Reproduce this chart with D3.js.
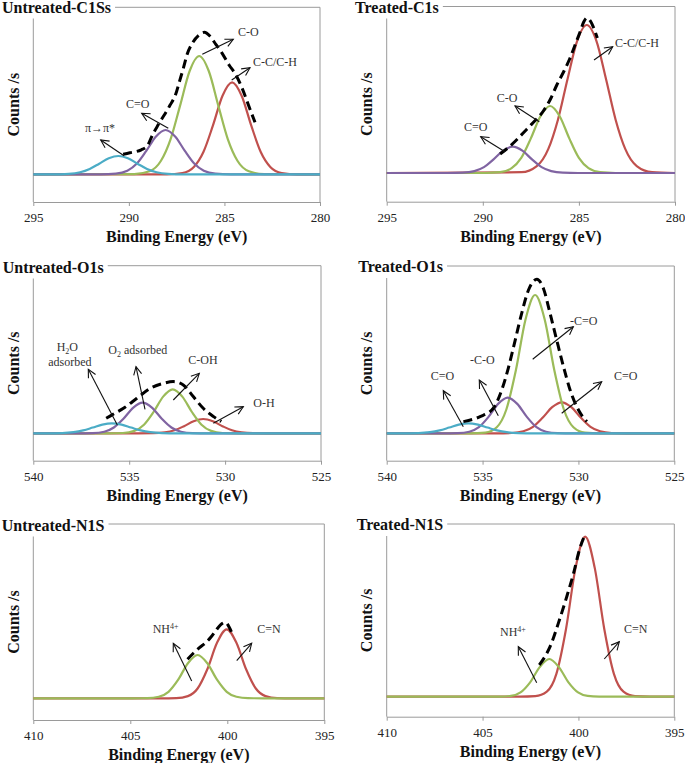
<!DOCTYPE html>
<html>
<head>
<meta charset="utf-8">
<script src="https://cdn.jsdelivr.net/npm/d3@7"></script>
<style>
  body { margin: 0; background: #fff; }
  svg { display: block; }
  text { font-family: "Liberation Serif", "Times New Roman", serif; }
</style>
</head>
<body>
<div id="vis-container"></div>
<script>
// ------------------------------ DATA ------------------------------ //
// Binding energy ticks (eV), high to low like the original plots
const c1sTicks = [295, 290, 285, 280];
const o1sTicks = [540, 535, 530, 525];
const n1sTicks = [410, 405, 400, 395];

// Fitted components as [eV, counts] (arbitrary units)
// Untreated C1s
const uC1sCC = [[295,0],[288.0,0],[287.2,1.3],[286.6,7.4],[286.1,22.3],[285.6,48.9],[285.1,78.6],[284.6,92],[284.1,78.6],[283.6,48.9],[283.1,22.3],[282.6,7.4],[282.0,1.3],[281.2,0],[280,0]];
const uC1sCO = [[295,0],[289.72,0.2],[288.92,3.0],[288.32,13.5],[287.82,34.9],[287.32,68.7],[286.82,103.3],[286.32,118.3],[285.82,103.3],[285.32,68.7],[284.82,34.9],[284.32,13.5],[283.72,3.0],[282.92,0.2],[280,0]];
const uC1sCdO = [[295,0],[291.48,0],[290.68,0.6],[290.08,3.5],[289.58,10.7],[289.08,23.6],[288.58,37.8],[288.08,44.3],[287.58,37.8],[287.08,23.6],[286.58,10.7],[286.08,3.5],[285.48,0.6],[284.68,0],[280,0]];
const uC1sPi = [[295,0],[293.95,0],[293.15,0.5],[292.55,2.1],[292.05,5.4],[291.55,10.6],[291.05,16.0],[290.55,18.3],[290.05,16.0],[289.55,10.6],[289.05,5.4],[288.55,2.1],[287.95,0.5],[287.15,0],[280,0]];
const uC1sEnv = [[290.3,20],[289.95,21.5],[289.35,24.5],[289.05,28],[288.75,40],[288.45,50],[287.85,69],[287.55,80],[287.35,93],[287.15,106],[286.95,120],[286.65,132],[286.35,139],[286.05,142],[285.75,138],[285.45,130],[285.15,122],[284.75,109],[284.45,101],[284.05,85],[283.7,67],[283.4,52]];

// Treated C1s
const tC1sCC = [[295,0],[287.99,0.8],[287.19,6.9],[286.59,24.1],[286.09,53.3],[285.59,94.0],[285.09,132.2],[284.59,148],[284.09,132.2],[283.59,94.0],[283.09,53.3],[282.59,24.1],[281.99,6.9],[281.19,0.8],[280,0]];
const tC1sCO = [[295,0],[289.9,0],[289.1,0.8],[288.5,4.8],[288.0,15.1],[287.5,34.6],[287.0,56.8],[286.5,67],[286.0,56.8],[285.5,34.6],[285.0,15.1],[284.5,4.8],[283.9,0.8],[283.1,0],[280,0]];
const tC1sCdO = [[295,0],[291.84,0],[291.04,0.3],[290.44,1.9],[289.94,5.9],[289.44,13.6],[288.94,22.3],[288.44,26.3],[287.94,22.3],[287.44,13.6],[286.94,5.9],[286.44,1.9],[285.84,0.3],[285.04,0],[280,0]];
const tC1sEnv = [[289.1,19],[288.7,25],[288.3,32],[287.9,40],[287.4,50],[286.85,62],[286.45,75],[286.15,88],[285.8,101],[285.46,115],[285.2,128],[284.94,141],[284.75,151],[284.59,155],[284.4,152],[284.25,146],[284.04,135]];

// Untreated O1s
const uO1sOH = [[540,0],[534.54,0],[533.74,0.1],[533.14,0.9],[532.64,3.0],[532.14,7.15],[531.64,12.0],[531.14,14.3],[530.64,12.0],[530.14,7.15],[529.64,3.0],[529.14,0.9],[528.54,0.1],[527.74,0],[525,0]];
const uO1sCOH = [[540,0],[536.13,0],[535.33,0.3],[534.73,2.4],[534.23,8.6],[533.73,21.3],[533.23,36.7],[532.73,44],[532.23,36.7],[531.73,21.3],[531.23,8.6],[530.73,2.4],[530.13,0.3],[529.33,0],[525,0]];
const uO1sO2 = [[540,0],[537.7,0],[536.9,0.2],[536.3,1.6],[535.8,5.8],[535.3,14.6],[534.8,25.5],[534.3,30.7],[533.8,25.5],[533.3,14.6],[532.8,5.8],[532.3,1.6],[531.7,0.2],[530.9,0],[525,0]];
const uO1sH2O = [[540,0],[539.3,0],[538.5,0.2],[537.9,1.1],[537.4,2.9],[536.9,5.75],[536.4,8.7],[535.9,10],[535.4,8.7],[534.9,5.75],[534.4,2.9],[533.9,1.1],[533.3,0.2],[532.5,0],[525,0]];
const uO1sEnv = [[536.2,15],[535.75,20],[535.3,25],[534.6,35],[533.9,45],[533.2,50],[532.7,51.7],[532.18,48.3],[531.66,36.7],[531.14,25],[530.6,16.7],[530.2,11.7]];

// Treated O1s
const tO1sCdO = [[540,0],[534.27,0],[533.47,0.3],[532.87,2.0],[532.37,6.5],[531.87,15.5],[531.37,26.1],[530.87,31],[530.37,26.1],[529.87,15.5],[529.37,6.5],[528.87,2.0],[528.27,0.3],[527.47,0],[525,0]];
const tO1sMain = [[540,0],[535.66,0],[534.86,0.7],[534.26,6.1],[533.76,23.8],[533.26,63.3],[532.76,113.8],[532.26,138.3],[531.76,113.8],[531.26,63.3],[530.76,23.8],[530.26,6.1],[529.66,0.7],[528.86,0],[525,0]];
const tO1sCO = [[540,0],[537.09,0],[536.29,0.2],[535.69,1.6],[535.19,6.1],[534.69,16.4],[534.19,29.4],[533.69,35.7],[533.19,29.4],[532.69,16.4],[532.19,6.1],[531.69,1.6],[531.09,0.2],[530.29,0],[525,0]];
const tO1sHigh = [[540,0],[539.14,0],[538.34,0.2],[537.74,1.1],[537.24,2.9],[536.74,5.75],[536.24,8.7],[535.74,10],[535.24,8.7],[534.74,5.75],[534.24,2.9],[533.74,1.1],[533.14,0.2],[532.34,0],[525,0]];
const tO1sEnv = [[536.0,11.7],[535.13,16.7],[534.44,25],[534.0,43.3],[533.66,65],[533.3,93],[532.96,120],[532.61,143],[532.17,154],[531.83,145],[531.48,120],[531.13,93],[530.78,66.7],[530.43,43],[529.99,23],[529.56,11.7]];

// Untreated N1s
const uN1sCN = [[410,0],[403.43,0],[402.63,0.2],[402.03,2.2],[401.53,9.8],[401.03,29.0],[400.53,55.5],[400.03,69],[399.53,55.5],[399.03,29.0],[398.53,9.8],[398.03,2.2],[397.43,0.2],[396.63,0],[395,0]];
const uN1sNH = [[410,0],[404.93,0],[404.13,0.1],[403.53,1.5],[403.03,6.5],[402.53,18.6],[402.03,35.1],[401.53,43.3],[401.03,35.1],[400.53,18.6],[400.03,6.5],[399.53,1.5],[398.93,0.1],[398.13,0],[395,0]];
const uN1sEnv = [[402.05,39],[401.75,45],[401.45,50.5],[401.15,55],[400.85,61],[400.6,67.5],[400.35,73.5],[400.1,76],[399.9,71],[399.7,62]];

// Treated N1s
const tN1sCN = [[410,0],[403.05,0],[402.25,0.5],[401.65,5.0],[401.15,22.8],[400.65,67.4],[400.15,128.8],[399.65,160],[399.15,128.8],[398.65,67.4],[398.15,22.8],[397.65,5.0],[397.05,0.5],[396.25,0],[395,0]];
const tN1sNH = [[410,0],[404.92,0],[404.12,0.1],[403.52,0.8],[403.02,4.3],[402.52,14.4],[402.02,29.6],[401.52,37.7],[401.02,29.6],[400.52,14.4],[400.02,4.3],[399.52,0.8],[398.92,0.1],[398.12,0],[395,0]];
const tN1sEnv = [[402.04,31.7],[401.75,40],[401.48,50],[401.05,73.3],[400.61,100],[400.26,123],[399.95,146.7],[399.65,162.3]];

// ------------------------------ SET UP ------------------------------ //
const width = 685;
const height = 763;

const colors = { red: "#c0504d", green: "#9bbb59", purple: "#8064a2", cyan: "#4bacc6" };
const frameColor = "#9a9a9a";

// Panel boxes (pixels) and annotations
const panels = [
  {
    title: "Untreated-C1Ss", ticks: c1sTicks, titleX: 2, titleY: 12.5,
    box: { left: 33.3, right: 320, top: 7.3, bottom: 202, baseline: 174.3 },
    series: [[uC1sCC, colors.red], [uC1sCO, colors.green], [uC1sCdO, colors.purple], [uC1sPi, colors.cyan]],
    envelope: uC1sEnv,
    notes: [
      { text: ["C-O"], x: 238, y: 36, from: [202.3, 54.3], to: [233.3, 39.3] },
      { text: ["C-C/C-H"], x: 253, y: 66, from: [231.7, 80], to: [250, 67.7] },
      { text: ["C=O"], x: 126, y: 108, from: [168.3, 128.3], to: [141.7, 113.3] },
      { text: ["π→π*"], x: 85, y: 132, from: [124, 155.7], to: [100.7, 140] }
    ]
  },
  {
    title: "Treated-C1s", ticks: c1sTicks, titleX: 355, titleY: 12.5,
    box: { left: 386.7, right: 675, top: 6.5, bottom: 201.7, baseline: 173 },
    series: [[tC1sCC, colors.red], [tC1sCO, colors.green], [tC1sCdO, colors.purple]],
    envelope: tC1sEnv,
    notes: [
      { text: ["C-C/C-H"], x: 615, y: 47, from: [594, 60], to: [612.7, 46.7] },
      { text: ["C-O"], x: 496.7, y: 101.5, from: [539.3, 121.7], to: [515, 106] },
      { text: ["C=O"], x: 464, y: 131, from: [505, 151.7], to: [480.7, 136.7] }
    ]
  },
  {
    title: "Untreated-O1s", ticks: o1sTicks, titleX: 2.7, titleY: 272.5,
    box: { left: 33.3, right: 321, top: 265.7, bottom: 460.7, baseline: 433.3 },
    series: [[uO1sOH, colors.red], [uO1sCOH, colors.green], [uO1sO2, colors.purple], [uO1sH2O, colors.cyan]],
    envelope: uO1sEnv,
    notes: [
      { text: ["H", ["2", "sub"], "O"], x: 56.7, y: 351, from: [117.3, 425], to: [88.3, 369.3] },
      { text: ["adsorbed"], x: 48.3, y: 366 },
      { text: ["O", ["2", "sub"], " adsorbed"], x: 108.3, y: 354, from: [145, 409.3], to: [136, 366.7] },
      { text: ["C-OH"], x: 188.3, y: 364, from: [173.3, 400], to: [199.3, 373.3] },
      { text: ["O-H"], x: 253.3, y: 407, from: [213.3, 423.3], to: [243.3, 406.7] }
    ]
  },
  {
    title: "Treated-O1s", ticks: o1sTicks, titleX: 358.3, titleY: 272,
    box: { left: 386.7, right: 674.3, top: 266, bottom: 460.7, baseline: 433.3 },
    series: [[tO1sCdO, colors.red], [tO1sMain, colors.green], [tO1sCO, colors.purple], [tO1sHigh, colors.cyan]],
    envelope: tO1sEnv,
    notes: [
      { text: ["-C=O"], x: 570, y: 325, from: [532.7, 359.3], to: [573.3, 326.7] },
      { text: ["C=O"], x: 614, y: 380, from: [561.7, 413.3], to: [601.7, 381.7] },
      { text: ["-C-O"], x: 470, y: 363.5, from: [498.3, 415.7], to: [479.3, 380] },
      { text: ["C=O"], x: 430.7, y: 380, from: [463.3, 426.7], to: [443.3, 390.7] }
    ]
  },
  {
    title: "Untreated-N1S", ticks: n1sTicks, titleX: 1.7, titleY: 530.5,
    box: { left: 33.3, right: 324.3, top: 524, bottom: 720, baseline: 698.3 },
    series: [[uN1sCN, colors.red], [uN1sNH, colors.green]],
    envelope: uN1sEnv,
    notes: [
      { text: ["NH", ["4+", "sup"]], x: 152.7, y: 632.5, from: [191.7, 681], to: [173.3, 643.3] },
      { text: ["C=N"], x: 257.3, y: 632.5, from: [236.7, 660.7], to: [251.7, 643.3] }
    ]
  },
  {
    title: "Treated-N1S", ticks: n1sTicks, titleX: 356.7, titleY: 530,
    box: { left: 386.7, right: 674.3, top: 524, bottom: 716.7, baseline: 696.7 },
    series: [[tN1sCN, colors.red], [tN1sNH, colors.green]],
    envelope: tN1sEnv,
    notes: [
      { text: ["NH", ["4+", "sup"]], x: 500, y: 636, from: [536.7, 682.7], to: [518.3, 646.7] },
      { text: ["C=N"], x: 624, y: 632.5, from: [604.3, 659], to: [619.3, 641.7] }
    ]
  }
];

const svg = d3.select("#vis-container")
  .append("svg")
  .attr("width", width)
  .attr("height", height)
  .attr("viewBox", [0, 0, width, height]);

// Open arrow head for the annotation lines
svg.append("defs").append("marker")
  .attr("id", "arrow")
  .attr("viewBox", "-9 -6 11 12")
  .attr("refX", 0)
  .attr("refY", 0)
  .attr("markerWidth", 11)
  .attr("markerHeight", 12)
  .attr("markerUnits", "userSpaceOnUse")
  .attr("orient", "auto")
  .append("path")
  .attr("d", "M-8,-4L0,0L-8,4")
  .attr("fill", "none")
  .attr("stroke", "#111")
  .attr("stroke-width", 1.1);

// ------------------------------ EXECUTION ------------------------------ //
panels.forEach(drawPanel);

// ------------------------------ FUNCTIONS ------------------------------ //

/**
 * Draws one XPS panel: frame, axis, fitted components, envelope and notes.
 */
function drawPanel(p) {
  const b = p.box;
  const g = svg.append("g");

  const x = d3.scaleLinear()
    .domain([p.ticks[0], p.ticks[p.ticks.length - 1]])
    .range([b.left, b.right]);

  const y = d3.scaleLinear()
    .domain([b.baseline - b.bottom, b.baseline - b.top])
    .range([b.bottom, b.top]);

  // Title (bold, sits on the top border)
  const title = g.append("text")
    .attr("x", p.titleX)
    .attr("y", p.titleY)
    .attr("font-size", "16px")
    .attr("font-weight", "bold")
    .attr("fill", "#111")
    .text(p.title);
  const titleEnd = p.titleX + title.node().getComputedTextLength();

  // Frame: top, right, left lines
  g.append("line")
    .attr("x1", titleEnd + 4).attr("x2", b.right)
    .attr("y1", b.top).attr("y2", b.top)
    .attr("stroke", frameColor);
  g.append("line")
    .attr("x1", b.right).attr("x2", b.right)
    .attr("y1", b.top).attr("y2", b.bottom)
    .attr("stroke", frameColor);
  g.append("line")
    .attr("x1", b.left).attr("x2", b.left)
    .attr("y1", p.titleY + 6).attr("y2", b.bottom)
    .attr("stroke", frameColor);

  // Bottom axis
  const axis = g.append("g")
    .attr("transform", `translate(0,${b.bottom})`)
    .call(d3.axisBottom(x)
      .tickValues(p.ticks)
      .tickFormat(d3.format("d"))
      .tickSize(4)
      .tickSizeOuter(0)
      .tickPadding(7));
  axis.select(".domain").attr("stroke", frameColor);
  axis.selectAll(".tick line").attr("stroke", frameColor);
  axis.selectAll(".tick text")
    .attr("font-family", "'Liberation Serif', 'Times New Roman', serif")
    .attr("font-size", "13px")
    .attr("fill", "#222");

  // Axis titles
  g.append("text")
    .attr("x", (b.left + b.right) / 2)
    .attr("y", b.bottom + 40)
    .attr("text-anchor", "middle")
    .attr("font-size", "16px")
    .attr("font-weight", "bold")
    .attr("fill", "#111")
    .text("Binding Energy (eV)");

  g.append("text")
    .attr("transform", `translate(${b.left - 20},${(b.top + b.bottom) / 2}) rotate(-90)`)
    .attr("text-anchor", "middle")
    .attr("dominant-baseline", "central")
    .attr("font-size", "16px")
    .attr("font-weight", "bold")
    .attr("fill", "#111")
    .text("Counts /s");

  // Fitted components
  const line = d3.line()
    .x((d) => x(d[0]))
    .y((d) => y(d[1]))
    .curve(d3.curveMonotoneX);

  p.series.forEach(([data, color]) => {
    g.append("path")
      .datum(data)
      .attr("d", line)
      .attr("fill", "none")
      .attr("stroke", color)
      .attr("stroke-width", 2.2);
  });

  // Envelope (dashed)
  g.append("path")
    .datum(p.envelope)
    .attr("d", line)
    .attr("fill", "none")
    .attr("stroke", "#000")
    .attr("stroke-width", 3)
    .attr("stroke-dasharray", "9,5");

  // Annotations
  p.notes.forEach((n) => {
    if (n.from) {
      g.append("line")
        .attr("x1", n.from[0]).attr("y1", n.from[1])
        .attr("x2", n.to[0]).attr("y2", n.to[1])
        .attr("stroke", "#111")
        .attr("stroke-width", 1.1)
        .attr("marker-end", "url(#arrow)");
    }
    const t = g.append("text")
      .attr("x", n.x)
      .attr("y", n.y)
      .attr("font-size", "12px")
      .attr("fill", "#333");
    // Sub/superscripts shift the baseline, the next part shifts it back
    let shift = 0;
    n.text.forEach((part) => {
      if (Array.isArray(part)) {
        const s = part[1] === "sub" ? 2.5 : -4;
        t.append("tspan")
          .attr("font-size", "8px")
          .attr("dy", s - shift)
          .text(part[0]);
        shift = s;
      } else {
        t.append("tspan")
          .attr("dy", -shift)
          .text(part);
        shift = 0;
      }
    });
  });
}
</script>
</body>
</html>
